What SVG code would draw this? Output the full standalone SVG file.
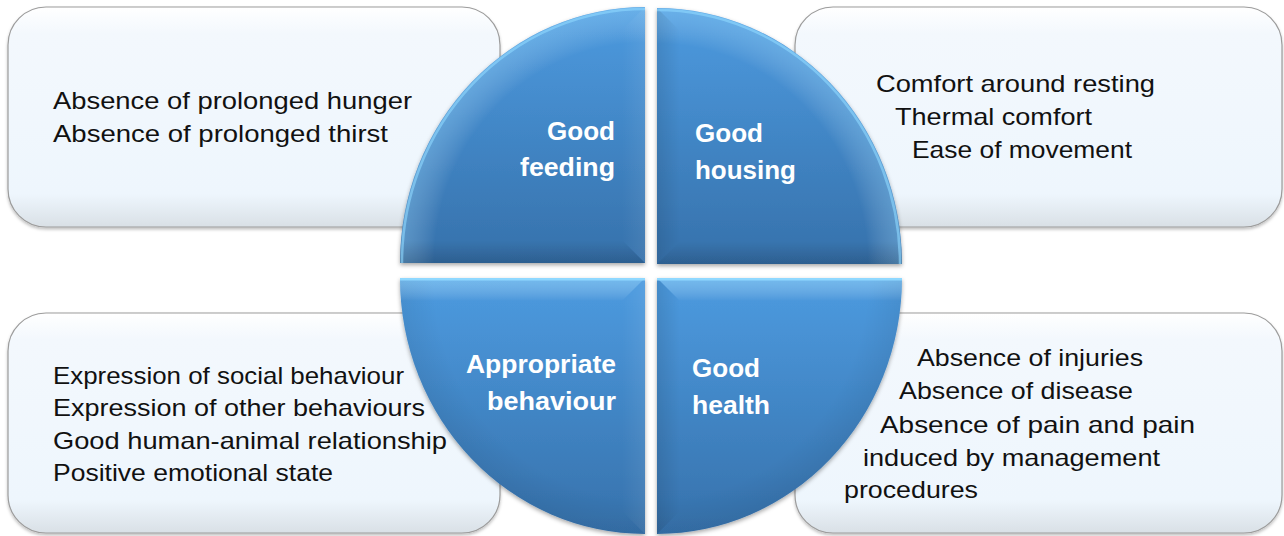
<svg xmlns="http://www.w3.org/2000/svg" width="1284" height="536" viewBox="0 0 1284 536">
<defs>
<style>
.box{fill:url(#boxg);stroke:#9c9c9c;stroke-width:1.2;filter:url(#bsh)}
.t{font-family:"Liberation Sans",Arial,sans-serif;font-size:24px;fill:#111}
.q{font-family:"Liberation Sans",Arial,sans-serif;font-size:25px;font-weight:bold;fill:#fff}
.base{fill:url(#qg)}
.hl{fill:none;stroke:#8fd8ff;stroke-width:2.5}
</style>
<linearGradient id="boxg" x1="0" y1="0" x2="0" y2="1">
<stop offset="0" stop-color="#ffffff"/>
<stop offset="0.12" stop-color="#f3f8fd"/>
<stop offset="0.85" stop-color="#eef6fd"/>
<stop offset="1" stop-color="#d9e0e6"/>
</linearGradient>
<linearGradient id="qg" x1="0" y1="0" x2="0" y2="1">
<stop offset="0" stop-color="#4d9be0"/>
<stop offset="1" stop-color="#3671ab"/>
</linearGradient>
<linearGradient id="gDownDark" x1="0" y1="0" x2="0" y2="1">
<stop offset="0" stop-color="#000" stop-opacity="0"/>
<stop offset="1" stop-color="#000" stop-opacity="0.16"/>
</linearGradient>
<linearGradient id="gUpLite" x1="0" y1="0" x2="0" y2="1">
<stop offset="0" stop-color="#9fe0ff" stop-opacity="0.45"/>
<stop offset="1" stop-color="#ffffff" stop-opacity="0"/>
</linearGradient>
<linearGradient id="gRightLite" x1="0" y1="0" x2="1" y2="0">
<stop offset="0" stop-color="#fff" stop-opacity="0"/>
<stop offset="1" stop-color="#fff" stop-opacity="0.07"/>
</linearGradient>
<linearGradient id="gLeftDark" x1="0" y1="0" x2="1" y2="0">
<stop offset="0" stop-color="#000" stop-opacity="0.10"/>
<stop offset="1" stop-color="#000" stop-opacity="0"/>
</linearGradient>
<radialGradient id="rTL" cx="1" cy="1" r="1">
<stop offset="0.86" stop-color="#fff" stop-opacity="0"/>
<stop offset="1" stop-color="#a8e2ff" stop-opacity="0.30"/>
</radialGradient>
<radialGradient id="rTR" cx="0" cy="1" r="1">
<stop offset="0.86" stop-color="#fff" stop-opacity="0"/>
<stop offset="1" stop-color="#a8e2ff" stop-opacity="0.30"/>
</radialGradient>
<radialGradient id="rBL" cx="1" cy="0" r="1">
<stop offset="0.86" stop-color="#000" stop-opacity="0"/>
<stop offset="1" stop-color="#000" stop-opacity="0.06"/>
</radialGradient>
<radialGradient id="rBR" cx="0" cy="0" r="1">
<stop offset="0.86" stop-color="#000" stop-opacity="0"/>
<stop offset="1" stop-color="#000" stop-opacity="0.06"/>
</radialGradient>
<filter id="bsh" x="-5%" y="-5%" width="110%" height="115%">
<feDropShadow dx="0" dy="2" stdDeviation="1.5" flood-color="#000" flood-opacity="0.25"/>
</filter>
<filter id="qsh" x="-5%" y="-5%" width="110%" height="110%">
<feDropShadow dx="0" dy="2" stdDeviation="2" flood-color="#000" flood-opacity="0.35"/>
</filter>
<path id="pTL" d="M645,263 L400,263 A245,256 0 0 1 645,7 Z"/>
<path id="pTR" d="M657,264 L657,8 A245,256 0 0 1 902,264 Z"/>
<path id="pBL" d="M645,278 L645,534 A245,256 0 0 1 400,278 Z"/>
<path id="pBR" d="M657,278 L902,278 A245,256 0 0 1 657,534 Z"/>
<clipPath id="cTL"><use href="#pTL"/></clipPath>
<clipPath id="cTR"><use href="#pTR"/></clipPath>
<clipPath id="cBL"><use href="#pBL"/></clipPath>
<clipPath id="cBR"><use href="#pBR"/></clipPath>
</defs>

<rect width="1284" height="536" fill="#ffffff"/>

<g id="box-feeding">
<rect class="box" x="8" y="7" width="492" height="220" rx="38"/>
<text class="t" x="53" y="109" textLength="359" lengthAdjust="spacingAndGlyphs">Absence of prolonged hunger</text>
<text class="t" x="53" y="142" textLength="335" lengthAdjust="spacingAndGlyphs">Absence of prolonged thirst</text>
</g>

<g id="box-housing">
<rect class="box" x="795" y="7" width="487" height="220" rx="38"/>
<text class="t" x="876" y="92" textLength="279" lengthAdjust="spacingAndGlyphs">Comfort around resting</text>
<text class="t" x="895" y="125" textLength="197" lengthAdjust="spacingAndGlyphs">Thermal comfort</text>
<text class="t" x="912" y="158" textLength="220" lengthAdjust="spacingAndGlyphs">Ease of movement</text>
</g>

<g id="box-behaviour">
<rect class="box" x="8" y="313" width="492" height="220" rx="38"/>
<text class="t" x="53" y="384" textLength="351" lengthAdjust="spacingAndGlyphs">Expression of social behaviour</text>
<text class="t" x="53" y="416" textLength="372" lengthAdjust="spacingAndGlyphs">Expression of other behaviours</text>
<text class="t" x="53" y="449" textLength="394" lengthAdjust="spacingAndGlyphs">Good human-animal relationship</text>
<text class="t" x="53" y="481" textLength="280" lengthAdjust="spacingAndGlyphs">Positive emotional state</text>
</g>

<g id="box-health">
<rect class="box" x="795" y="313" width="487" height="220" rx="38"/>
<text class="t" x="917" y="366" textLength="226" lengthAdjust="spacingAndGlyphs">Absence of injuries</text>
<text class="t" x="899" y="399" textLength="234" lengthAdjust="spacingAndGlyphs">Absence of disease</text>
<text class="t" x="880" y="433" textLength="315" lengthAdjust="spacingAndGlyphs">Absence of pain and pain</text>
<text class="t" x="863" y="466" textLength="297" lengthAdjust="spacingAndGlyphs">induced by management</text>
<text class="t" x="844" y="498" textLength="134" lengthAdjust="spacingAndGlyphs">procedures</text>
</g>

<g id="connectors"/>

<g id="q-feeding">
<use href="#pTL" class="base" filter="url(#qsh)"/>
<use href="#pTL" fill="url(#rTL)"/>
<g clip-path="url(#cTL)">
<polygon points="645,7 645,263 622,240 622,30" fill="url(#gRightLite)"/>
<polygon points="400,263 645,263 622,240 400,240" fill="url(#gDownDark)"/>
<path class="hl" d="M402,263 A243,254 0 0 1 645,9" stroke-opacity="0.6"/>
</g>
<text class="q" x="547" y="140" textLength="68" lengthAdjust="spacingAndGlyphs">Good</text>
<text class="q" x="520" y="176" textLength="95" lengthAdjust="spacingAndGlyphs">feeding</text>
</g>

<g id="q-housing">
<use href="#pTR" class="base" filter="url(#qsh)"/>
<use href="#pTR" fill="url(#rTR)"/>
<g clip-path="url(#cTR)">
<polygon points="657,8 657,264 680,241 680,31" fill="url(#gLeftDark)"/>
<polygon points="657,264 902,264 902,241 680,241" fill="url(#gDownDark)"/>
<path class="hl" d="M657,10 A243,254 0 0 1 900,264" stroke-opacity="0.6"/>
</g>
<text class="q" x="695" y="142" textLength="68" lengthAdjust="spacingAndGlyphs">Good</text>
<text class="q" x="695" y="179" textLength="101" lengthAdjust="spacingAndGlyphs">housing</text>
</g>

<g id="q-behaviour">
<use href="#pBL" class="base" filter="url(#qsh)"/>
<use href="#pBL" fill="url(#rBL)"/>
<g clip-path="url(#cBL)">
<polygon points="400,278 645,278 622,301 400,301" fill="url(#gUpLite)"/>
<polygon points="645,278 645,534 622,511 622,301" fill="url(#gRightLite)"/>
<line class="hl" x1="400" y1="279.3" x2="645" y2="279.3"/>
</g>
<text class="q" x="466" y="373" textLength="150" lengthAdjust="spacingAndGlyphs">Appropriate</text>
<text class="q" x="487" y="410" textLength="129" lengthAdjust="spacingAndGlyphs">behaviour</text>
</g>

<g id="q-health">
<use href="#pBR" class="base" filter="url(#qsh)"/>
<use href="#pBR" fill="url(#rBR)"/>
<g clip-path="url(#cBR)">
<polygon points="657,278 902,278 902,301 680,301" fill="url(#gUpLite)"/>
<polygon points="657,278 657,534 680,511 680,301" fill="url(#gLeftDark)"/>
<line class="hl" x1="657" y1="279.3" x2="902" y2="279.3"/>
</g>
<text class="q" x="692" y="377" textLength="68" lengthAdjust="spacingAndGlyphs">Good</text>
<text class="q" x="692" y="414" textLength="78" lengthAdjust="spacingAndGlyphs">health</text>
</g>
</svg>
